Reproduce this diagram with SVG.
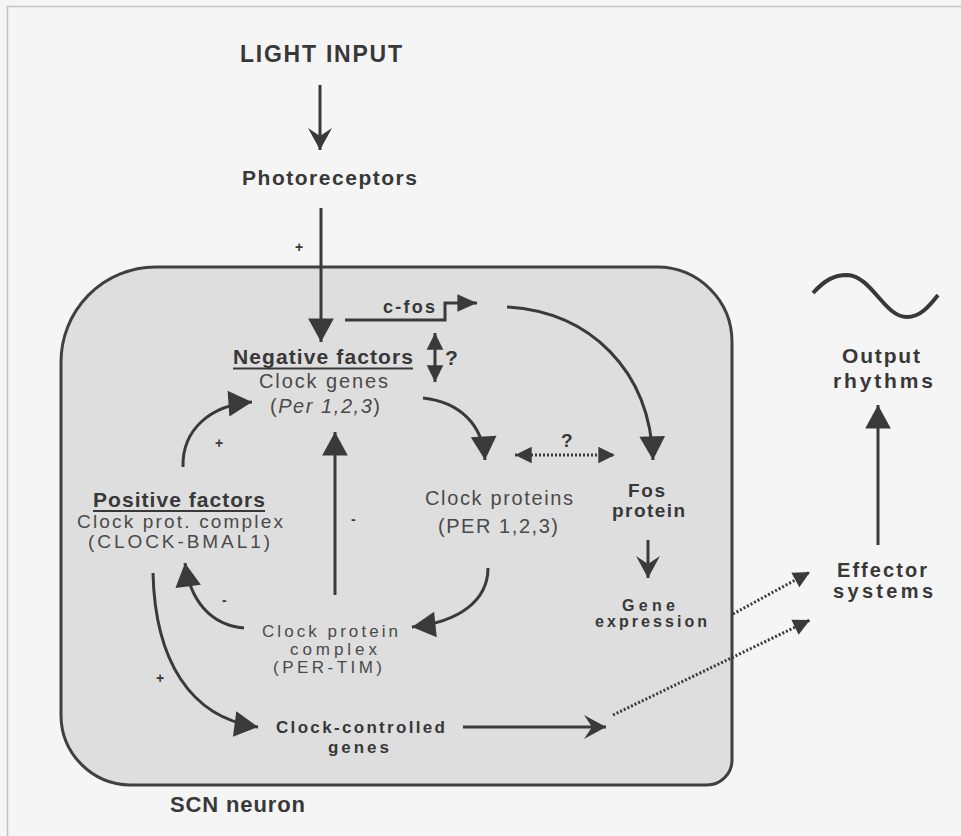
<svg xmlns="http://www.w3.org/2000/svg" width="961" height="836" viewBox="0 0 961 836">
<style>
text{font-family:"Liberation Sans",Arial,sans-serif;fill:#383838}
.b{font-weight:bold}
.r{fill:#4a4a4a}
.ln{fill:none;stroke:#3a3a3a;stroke-width:3}
.dot{fill:none;stroke:#3a3a3a;stroke-width:3;stroke-dasharray:2 2}
.sign{font-weight:bold;font-size:14px}
</style>
<defs>
<marker id="big" markerUnits="userSpaceOnUse" markerWidth="30" markerHeight="30" viewBox="-24 -14 26 28" refX="0" refY="0" orient="auto"><path d="M0,0 L-22,-12 L-22,12 Z" fill="#3a3a3a"/></marker>
<marker id="med" markerUnits="userSpaceOnUse" markerWidth="24" markerHeight="24" viewBox="-20 -10 22 20" refX="0" refY="0" orient="auto"><path d="M0,0 L-18,-8 L-18,8 Z" fill="#3a3a3a"/></marker>
<marker id="sm" markerUnits="userSpaceOnUse" markerWidth="20" markerHeight="20" viewBox="-16 -9 18 18" refX="0" refY="0" orient="auto-start-reverse"><path d="M0,0 L-15,-7.5 L-15,7.5 Z" fill="#3a3a3a"/></marker>
<marker id="vee" markerUnits="userSpaceOnUse" markerWidth="26" markerHeight="26" viewBox="-23 -13 25 26" refX="0" refY="0" orient="auto"><path d="M0,0 L-22,-12 L-14,0 L-22,12 Z" fill="#3a3a3a"/></marker>
</defs>
<rect x="0" y="0" width="961" height="836" fill="#f5f5f5"/>
<path d="M7.5,836 V6.5 H961" fill="none" stroke="#c4c4c4" stroke-width="1.5"/>

<g id="scn-neuron">
<path d="M155,267 H657 A75,75 0 0 1 732,342 V760 A25,25 0 0 1 707,785 H130 A70,70 0 0 1 61,715 V362 A95,95 0 0 1 155,267 Z" fill="#dedede" stroke="#404040" stroke-width="3"/>
<text class="b" x="170" y="812" font-size="22" textLength="135" lengthAdjust="spacing">SCN neuron</text>
</g>

<g id="light-input"><text class="b" x="240" y="62" font-size="23" textLength="162" lengthAdjust="spacing">LIGHT INPUT</text></g>
<g id="photoreceptors"><text class="b" x="242" y="185" font-size="21" textLength="175" lengthAdjust="spacing">Photoreceptors</text></g>

<g id="negative-factors">
<text class="b" x="233" y="364" font-size="21" textLength="180" lengthAdjust="spacing">Negative factors</text>
<line x1="233" y1="368.5" x2="413" y2="368.5" stroke="#383838" stroke-width="2"/>
<text class="r" x="259" y="388" font-size="20" textLength="129" lengthAdjust="spacing">Clock genes</text>
<text class="r" x="270" y="413" font-size="20" textLength="110" lengthAdjust="spacing">(<tspan font-style="italic">Per 1,2,3</tspan>)</text>
</g>

<g id="positive-factors">
<text class="b" x="93" y="507" font-size="21" textLength="172" lengthAdjust="spacing">Positive factors</text>
<line x1="93" y1="511" x2="265" y2="511" stroke="#383838" stroke-width="2"/>
<text class="r" x="77" y="528" font-size="19" textLength="206" lengthAdjust="spacing">Clock prot. complex</text>
<text class="r" x="88" y="548" font-size="19" textLength="182" lengthAdjust="spacing">(CLOCK-BMAL1)</text>
</g>

<g id="clock-proteins">
<text class="r" x="425" y="505" font-size="20" textLength="148" lengthAdjust="spacing">Clock proteins</text>
<text class="r" x="438" y="533" font-size="20" textLength="120" lengthAdjust="spacing">(PER 1,2,3)</text>
</g>

<g id="clock-protein-complex">
<text class="r" x="262" y="637" font-size="17" textLength="136" lengthAdjust="spacing">Clock protein</text>
<text class="r" x="290" y="655" font-size="17" textLength="87" lengthAdjust="spacing">complex</text>
<text class="r" x="273" y="673" font-size="17" textLength="109" lengthAdjust="spacing">(PER-TIM)</text>
</g>

<g id="clock-controlled-genes">
<text class="b" x="276" y="733" font-size="17" textLength="169" lengthAdjust="spacing">Clock-controlled</text>
<text class="b" x="328" y="753" font-size="17" textLength="61" lengthAdjust="spacing">genes</text>
</g>

<g id="fos-protein">
<text class="b" x="628" y="497" font-size="19" textLength="37" lengthAdjust="spacing">Fos</text>
<text class="b" x="612" y="517" font-size="19" textLength="73" lengthAdjust="spacing">protein</text>
</g>

<g id="gene-expression">
<text class="b" x="622" y="611" font-size="16" textLength="53" lengthAdjust="spacing">Gene</text>
<text class="b" x="595" y="627" font-size="16" textLength="112" lengthAdjust="spacing">expression</text>
</g>

<g id="effector-systems">
<text class="b" x="837" y="577" font-size="20" textLength="90" lengthAdjust="spacing">Effector</text>
<text class="b" x="833" y="598" font-size="20" textLength="100" lengthAdjust="spacing">systems</text>
</g>

<g id="output-rhythms">
<path d="M813,293 C825,280 834,275 847,275 C872,276 884,317 907,317 C921,317 930,305 938,295" fill="none" stroke="#383838" stroke-width="4"/>
<text class="b" x="842" y="363" font-size="21" textLength="78" lengthAdjust="spacing">Output</text>
<text class="b" x="833" y="388" font-size="21" textLength="100" lengthAdjust="spacing">rhythms</text>
</g>

<g id="connectors">
<path class="ln" d="M320,85 V150" marker-end="url(#vee)"/>
<path class="ln" d="M321,208 V342" marker-end="url(#big)"/>
<text class="sign" x="295" y="252">+</text>
<path class="ln" d="M345,320 H445 V303 H477" marker-end="url(#med)"/>
<text class="b" x="383" y="313" font-size="18" textLength="52" lengthAdjust="spacing">c-fos</text>
<path class="ln" d="M507,307 C590,312 650,370 653,460" marker-end="url(#big)"/>
<path class="ln" d="M435,333 V382" stroke-width="2.5" marker-start="url(#sm)" marker-end="url(#sm)"/>
<text class="b" x="445" y="365" font-size="21" fill="#555">?</text>
<path class="ln" d="M423,398 C460,402 483,425 485,460" marker-end="url(#big)"/>
<path class="dot" d="M515,455 H615" marker-start="url(#sm)" marker-end="url(#sm)"/>
<text class="b" x="561" y="447" font-size="19">?</text>
<path class="ln" d="M183,467 C182,430 210,405 252,402" marker-end="url(#big)"/>
<text class="sign" x="215" y="448">+</text>
<path class="ln" d="M335,595 V432" stroke-width="5" marker-end="url(#big)"/>
<text class="sign" x="351" y="524">-</text>
<path class="ln" d="M488,568 C488,600 460,622 412,627" marker-end="url(#big)"/>
<path class="ln" d="M244,628 C210,625 190,600 185,563" marker-end="url(#big)"/>
<text class="sign" x="222" y="605">-</text>
<path class="ln" d="M153,573 C155,660 190,718 258,727" marker-end="url(#big)"/>
<text class="sign" x="156" y="683">+</text>
<path class="ln" d="M463,727 H606" marker-end="url(#vee)"/>
<path class="ln" d="M648,540 V578" stroke-width="2.5" marker-end="url(#vee)"/>
<path class="dot" d="M733,614 L810,572" marker-end="url(#sm)"/>
<path class="dot" d="M613,715 L810,620" marker-end="url(#sm)"/>
<path class="ln" d="M878,545 V405" stroke-width="4" marker-end="url(#big)"/>
</g>
</svg>
